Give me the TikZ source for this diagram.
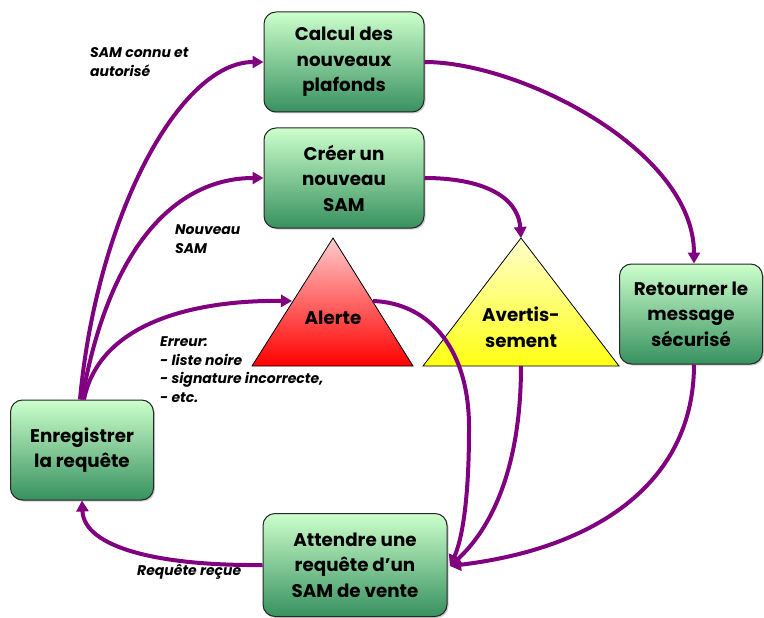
\documentclass[tikz,border=0pt]{standalone}
\usepackage{fontspec}
\setmainfont{Poppins}
\usetikzlibrary{arrows.meta,shadows}
\definecolor{gtop}{RGB}{204,255,204}
\definecolor{gbot}{RGB}{55,145,95}
\definecolor{rtop}{RGB}{255,204,204}
\definecolor{rbot}{RGB}{255,0,0}
\definecolor{ytop}{RGB}{255,255,204}
\definecolor{ybot}{RGB}{255,255,20}
\definecolor{arr}{RGB}{128,0,128}
\tikzset{
  stepbox/.style={draw=black!85, line width=1pt, rounded corners=12pt,
    top color=gtop, bottom color=gbot, align=center, inner sep=2pt,
    minimum width=160pt, minimum height=100pt,
    font=\bfseries\fontsize{18.3}{25.5}\selectfont,
    drop shadow={shadow xshift=1.5pt, shadow yshift=-1.5pt, opacity=0.4}},
  tri/.style={draw=black, line width=0.8pt},
  tritext/.style={align=center, font=\bfseries\fontsize{18.3}{25.5}\selectfont},
  flow/.style={draw=arr, line width=4pt, -{Triangle[length=11pt,width=12pt]}},
  lab/.style={align=left, anchor=west, inner sep=0pt,
    font=\bfseries\itshape\fontsize{14}{18.5}\selectfont}
}
\begin{document}
\begin{tikzpicture}[x=1pt,y=-1pt]
\useasboundingbox (0,0) rectangle (764,618);
% boxes
\node[stepbox] (calc) at (344,62) {Calcul des\\nouveaux\\plafonds};
\node[stepbox] (creer) at (344,178) {Créer un\\nouveau\\SAM};
\node[stepbox, minimum width=143pt] (ret) at (691,314) {Retourner le\\message\\sécurisé};
\node[stepbox, minimum width=143pt] (enr) at (82,450) {Enregistrer\\la requête};
\node[stepbox, minimum width=184pt, minimum height=103pt] (att) at (355,565) {Attendre une\\requête d’un\\SAM de vente};
% triangles
\path[tri, top color=rtop, bottom color=rbot] (252,366) -- (333,238) -- (413,366) -- cycle;
\path[tri, top color=ytop, bottom color=ybot] (423,366) -- (521,238) -- (619,366) -- cycle;
\node[tritext] (alerte) at (333,318) {Alerte};
\node[tritext] (avert) at (521,327) {Avertis-\\sement};
\coordinate (alL) at (292,301);
\coordinate (alR) at (373,301);
\coordinate (avTop) at (521,238);
\coordinate (avBase) at (521,366);
\coordinate (attIn) at (450,566);
% connectors
\draw[flow] ([xshift=-2pt]enr.north) .. controls (97,215) and (180,62) .. (calc.west);
\draw[flow] (enr.north) .. controls (110,240) and (180,178) .. (creer.west);
\draw[flow] ([xshift=2pt]enr.north) .. controls (100,320) and (200,300) .. (alL);
\draw[flow] (calc.east) .. controls (520,62) and (694,150) .. ([xshift=3pt]ret.north);
\draw[flow] (creer.east) .. controls (480,178) and (518,195) .. (avTop);
\draw[flow] (alR) .. controls (430,303) and (470,350) .. (469,430) .. controls (469,500) and (462,540) .. (attIn);
\draw[flow] (avBase) .. controls (521,470) and (490,530) .. (attIn);
\draw[flow] ([xshift=3pt]ret.south) .. controls (694,480) and (600,548) .. (attIn);
\draw[flow] (att.west) .. controls (160,566) and (84,548) .. (enr.south);
% labels
\node[lab] (l1) at (90,62) {SAM connu et\\autorisé};
\node[lab] (l2) at (175,239) {Nouveau\\SAM};
\node[lab] (l3) at (160,369.5) {Erreur:\\- liste noire\\- signature incorrecte,\\- etc.};
\node[lab] (l4) at (137,572) {Requête reçue};
\end{tikzpicture}
\end{document}
